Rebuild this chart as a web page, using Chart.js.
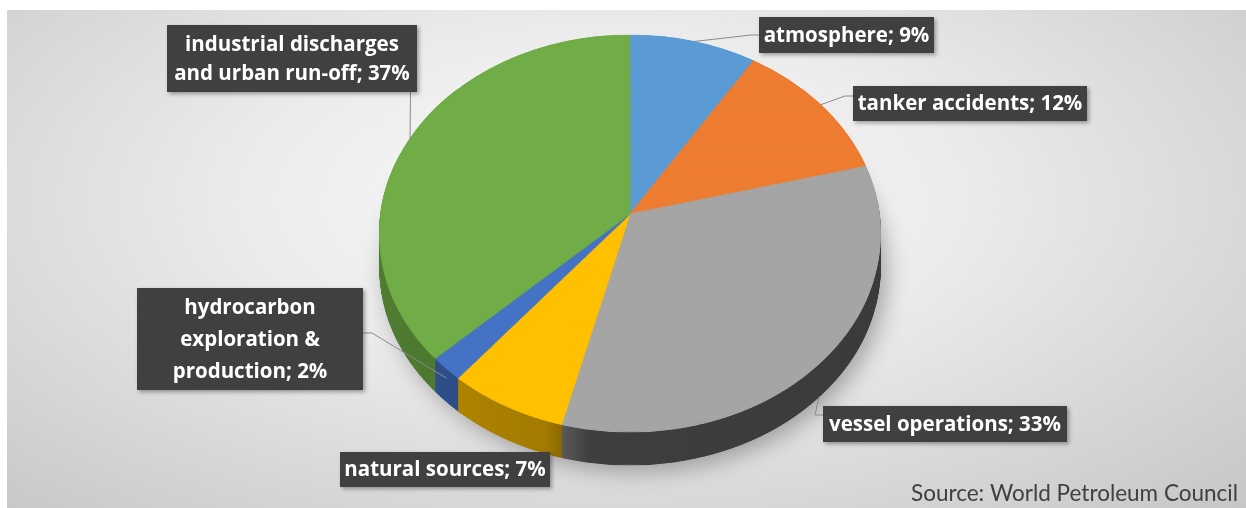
<!DOCTYPE html>
<html>
<head>
<meta charset="utf-8">
<title>Sources of oil in the sea</title>
<script src="https://cdn.jsdelivr.net/npm/chart.js@4.4.1/dist/chart.umd.min.js"></script>
<style>
  html, body { margin: 0; padding: 0; background: #fff; }
  #wrap { position: relative; width: 1246px; height: 508px; overflow: hidden; }
  #bg {
    position: absolute; left: 7px; top: 10px; right: 0; bottom: 0;
    background: radial-gradient(farthest-corner at 48% 38%, #fbfbfb 0%, #ebebeb 40%, #c6c6c6 100%);
  }
  #chart { position: absolute; left: 0; top: 0; }
</style>
</head>
<body>
<div id="wrap">
  <div id="bg"></div>
  <canvas id="chart" width="1246" height="508"></canvas>
</div>
<script>
// data
const categories = [
  'atmosphere',
  'tanker accidents',
  'vessel operations',
  'natural sources',
  'hydrocarbon exploration & production',
  'industrial discharges and urban run-off'
];
const shares = [9, 12, 33, 7, 2, 37];
const sliceColors = ['#5B9BD5', '#ED7D31', '#A5A5A5', '#FFC000', '#4472C4', '#70AD47'];
const sourceNote = 'Source: World Petroleum Council';

// 3D look: centre, half-axes, perspective tilt and thickness of the pie
const PIE = { cx: 630, cy: 214, rx: 249, ry: 196.5, tilt: 0.098, depth: 33 };

// label boxes (same order as categories); side = where the leader line leaves the box
const labelBoxes = [
  { x: 759, y: 17,  w: 175, h: 36,  side: 'left',   at: 18, tail: 0 },
  { x: 853, y: 86,  w: 234, h: 35,  side: 'left',   at: 10, tail: 0 },
  { x: 823, y: 406, w: 244, h: 36,  side: 'left',   at: 9,  tail: 1 },
  { x: 340, y: 452, w: 210, h: 35,  side: null },
  { x: 137, y: 288, w: 226, h: 102, side: 'right',  at: 45, tail: 0.3 },
  { x: 167, y: 25,  w: 250, h: 67,  side: 'bottom', tail: 0 }
];

// plane point (relative to pie centre, radius R) -> screen point
function project(X, Y, R) {
  const d = 1 - PIE.tilt * Y / R;
  return [PIE.cx + PIE.rx * X / R / d, PIE.cy + PIE.ry * Y / R / d];
}

function makeLayer(w, h) {
  const c = document.createElement('canvas');
  c.width = w; c.height = h;
  return c;
}

// draw the library's arcs in thin horizontal strips, each strip with its own scale
function renderFace(chart, layer) {
  const g = layer.getContext('2d');
  const arcs = chart.getDatasetMeta(0).data;
  const R = arcs[0].outerRadius, ox = arcs[0].x, oy = arcs[0].y;
  const N = 240;
  for (let i = 0; i < N; i++) {
    const Y0 = -R + 2 * R * i / N;
    const Y1 = -R + 2 * R * (i + 1) / N;
    const dm = 1 - PIE.tilt * ((Y0 + Y1) / 2) / R;
    const sx = PIE.rx / (R * dm);
    const s0 = project(0, Y0, R)[1], s1 = project(0, Y1, R)[1];
    const sy = (s1 - s0) / (Y1 - Y0);
    const pad = 0.6 / sy;
    g.save();
    g.setTransform(sx, 0, 0, sy, PIE.cx - sx * ox, s0 - sy * (oy + Y0));
    g.beginPath();
    g.rect(ox - R - 4, oy + Y0 - pad, 2 * R + 8, (Y1 - Y0) + 2 * pad);
    g.clip();
    arcs.forEach(a => a.draw(g));
    g.restore();
  }
}

const pie3d = {
  id: 'pie3d',
  beforeDatasetsDraw(chart) {
    const ctx = chart.ctx;
    const W = chart.width, H = chart.height;
    const face = makeLayer(W, H);
    renderFace(chart, face);

    // darker copy for the rim, darker towards the right
    const side = makeLayer(W, H);
    const sg = side.getContext('2d');
    sg.drawImage(face, 0, 0);
    sg.globalCompositeOperation = 'source-atop';
    const shade = sg.createLinearGradient(PIE.cx - PIE.rx, 0, PIE.cx + PIE.rx, 0);
    shade.addColorStop(0, 'rgba(0,0,0,0.28)');
    shade.addColorStop(0.33, 'rgba(0,0,0,0.36)');
    shade.addColorStop(0.42, 'rgba(0,0,0,0.62)');
    shade.addColorStop(1, 'rgba(0,0,0,0.64)');
    sg.fillStyle = shade;
    sg.fillRect(0, 0, W, H);

    ctx.save();
    ctx.shadowColor = 'rgba(0,0,0,0.3)';
    ctx.shadowBlur = 22;
    ctx.shadowOffsetX = 6;
    ctx.shadowOffsetY = 6;
    ctx.drawImage(side, 0, PIE.depth);
    ctx.restore();
    for (let t = PIE.depth - 1; t >= 1; t--) ctx.drawImage(side, 0, t);
    ctx.drawImage(face, 0, 0);
    return false;
  },
  afterDraw(chart) {
    const ctx = chart.ctx;
    const arcs = chart.getDatasetMeta(0).data;
    const R = arcs[0].outerRadius;
    const labels = chart.data.labels;
    const values = chart.data.datasets[0].data;

    // leader lines
    ctx.save();
    ctx.strokeStyle = '#8a8a8a';
    ctx.lineWidth = 1;
    arcs.forEach((a, i) => {
      const b = labelBoxes[i];
      if (!b.side) return;
      const mid = (a.startAngle + a.endAngle) / 2;
      const p = project(R * Math.cos(mid), R * Math.sin(mid), R);
      p[1] += b.tail * PIE.depth;
      ctx.beginPath();
      if (b.side === 'left') {
        ctx.moveTo(b.x, b.y + b.at);
        ctx.lineTo(b.x - 8, b.y + b.at);
      } else if (b.side === 'right') {
        ctx.moveTo(b.x + b.w, b.y + b.at);
        ctx.lineTo(b.x + b.w + 9, b.y + b.at);
      } else {
        ctx.moveTo(Math.round(p[0]) + 0.5, b.y + b.h);
      }
      ctx.lineTo(p[0], p[1]);
      ctx.stroke();
    });
    ctx.restore();

    // label boxes
    ctx.save();
    ctx.font = 'bold 20.5px "Open Sans"';
    ctx.textAlign = 'center';
    ctx.textBaseline = 'middle';
    labels.forEach((name, i) => {
      const b = labelBoxes[i];
      const text = name + '; ' + values[i] + '%';
      const lines = [];
      let cur = '';
      text.split(' ').forEach(word => {
        const tryLine = cur ? cur + ' ' + word : word;
        if (cur && ctx.measureText(tryLine).width > b.w - 4) {
          lines.push(cur);
          cur = word;
        } else {
          cur = tryLine;
        }
      });
      lines.push(cur);

      ctx.save();
      ctx.shadowColor = 'rgba(0,0,0,0.35)';
      ctx.shadowBlur = 4;
      ctx.shadowOffsetX = 2;
      ctx.shadowOffsetY = 2;
      ctx.fillStyle = '#404040';
      ctx.fillRect(b.x, b.y, b.w, b.h);
      ctx.restore();

      const lh = lines.length > 2 ? 32 : 29;
      const top = b.y + b.h / 2 - (lines.length - 1) * lh / 2;
      ctx.fillStyle = '#ffffff';
      lines.forEach((ln, k) => ctx.fillText(ln, b.x + b.w / 2, top + k * lh + 1));
    });
    ctx.restore();

    // source note
    ctx.save();
    ctx.font = '22.5px Lato';
    ctx.fillStyle = '#404040';
    ctx.textAlign = 'right';
    ctx.textBaseline = 'alphabetic';
    ctx.fillText(sourceNote, 1238, 501);
    ctx.restore();
  }
};

new Chart(document.getElementById('chart'), {
  type: 'pie',
  data: {
    labels: categories,
    datasets: [{
      data: shares,
      backgroundColor: sliceColors,
      borderColor: sliceColors,
      borderWidth: 1
    }]
  },
  options: {
    responsive: false,
    devicePixelRatio: 1,
    animation: false,
    layout: { padding: 20 },
    plugins: {
      legend: { display: false },
      tooltip: { enabled: false }
    }
  },
  plugins: [pie3d]
});
</script>
</body>
</html>
